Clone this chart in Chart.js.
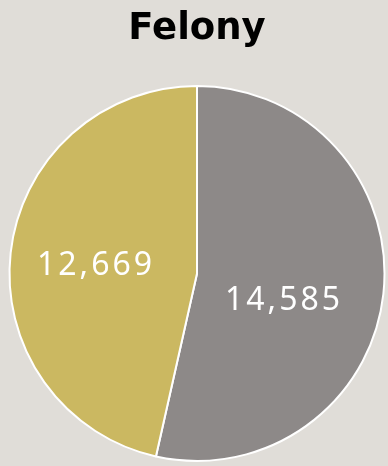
<!DOCTYPE html>
<html>
<head>
<meta charset="utf-8">
<script src="https://cdn.jsdelivr.net/npm/chart.js@4/dist/chart.umd.min.js"></script>
<style>
  html, body { margin: 0; padding: 0; background: #e0ddd8; }
  #wrap { width: 388px; height: 466px; position: relative; }
</style>
</head>
<body>
<div id="wrap"><canvas id="c"></canvas></div>
<script>
const titleText = "Felony";
const categories = ["Gray", "Gold"];
const values = [14585, 12669];
const valueLabels = ["14,585", "12,669"];
const sliceColors = ["#8d8988", "#cbb861"];
const labelOffsets = [[-17, 16], [0, 4]];

const labelPlugin = {
  id: 'sliceLabels',
  afterDatasetsDraw(chart) {
    const ctx = chart.ctx;
    const meta = chart.getDatasetMeta(0);
    ctx.save();
    ctx.fillStyle = '#ffffff';
    ctx.font = '400 32px "Noto Sans", sans-serif';
    try { ctx.letterSpacing = '3px'; } catch (e) {}
    ctx.textAlign = 'center';
    ctx.textBaseline = 'middle';
    meta.data.forEach((arc, i) => {
      const p = arc.getProps(['x', 'y', 'startAngle', 'endAngle', 'outerRadius'], true);
      const mid = (p.startAngle + p.endAngle) / 2;
      const r = p.outerRadius * 0.55;
      const x = p.x + Math.cos(mid) * r + labelOffsets[i][0];
      const y = p.y + Math.sin(mid) * r + labelOffsets[i][1];
      ctx.fillText(valueLabels[i], x + 1.5, y);
    });
    ctx.restore();
  }
};

new Chart(document.getElementById('c'), {
  type: 'pie',
  data: {
    labels: categories,
    datasets: [{
      data: values,
      backgroundColor: sliceColors,
      borderColor: '#ffffff',
      borderWidth: 2,
      hoverOffset: 0
    }]
  },
  options: {
    responsive: true,
    maintainAspectRatio: false,
    animation: false,
    events: [],
    layout: { padding: { left: 8, right: 2, top: 0, bottom: 4 } },
    plugins: {
      legend: { display: false },
      tooltip: { enabled: false },
      title: {
        display: true,
        text: titleText,
        color: '#000000',
        font: { family: '"DejaVu Sans", sans-serif', size: 37, weight: 'bold', lineHeight: 1.2 },
        padding: { top: 7, bottom: 33.6 }
      }
    }
  },
  plugins: [labelPlugin]
});
</script>
</body>
</html>
